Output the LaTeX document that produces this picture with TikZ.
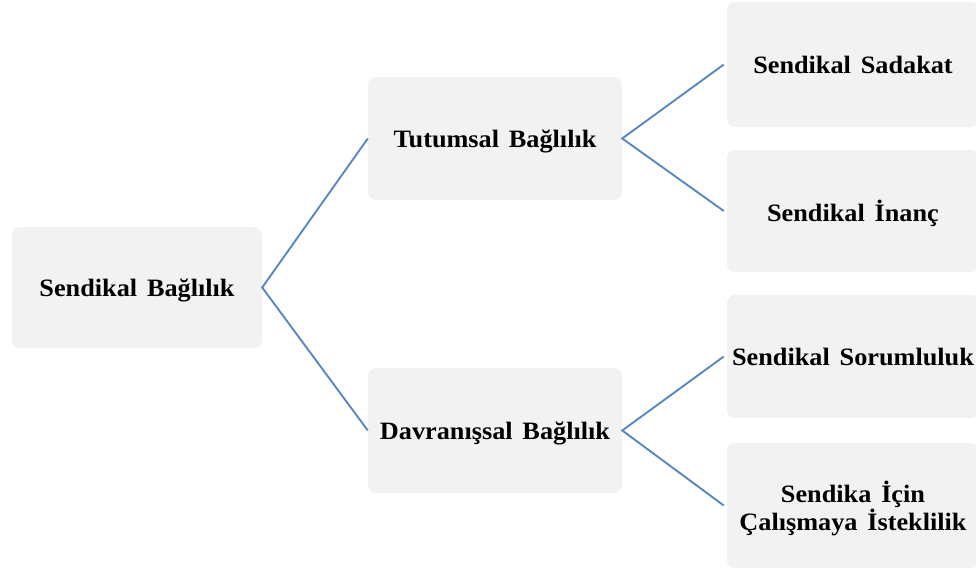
\documentclass[tikz,border=0pt]{standalone}
\usepackage{fontspec}
\setmainfont{Liberation Serif}[FakeStretch=1.05,WordSpace=1.5]
\definecolor{boxfill}{HTML}{F2F2F2}
\definecolor{linkblue}{HTML}{5888C0}
\begin{document}
\begin{tikzpicture}[x=1pt,y=-1pt,
  box/.style={rectangle, rounded corners=8pt, fill=boxfill, draw=none,
    inner sep=2pt, align=center, text depth=0pt,
    font=\fontsize{25}{23.5}\selectfont\bfseries},
  link/.style={draw=linkblue, line width=1.9pt}]
  \clip (0,0) rectangle (976,570);
  \fill[white] (0,0) rectangle (976,570);

  % levels of the hierarchy
  \node[box, minimum width=250pt, minimum height=121pt] (root) at (137,287.5) {Sendikal Bağlılık};
  \node[box, minimum width=254pt, minimum height=123pt] (tut) at (495,138.5) {Tutumsal Bağlılık};
  \node[box, minimum width=254pt, minimum height=125pt] (dav) at (495,430.5) {Davranışsal Bağlılık};
  \node[box, minimum width=252pt, minimum height=125pt] (sad) at (853,64.5) {Sendikal Sadakat};
  \node[box, minimum width=252pt, minimum height=122pt] (ina) at (853,211) {Sendikal İnanç};
  \node[box, minimum width=252pt, minimum height=123pt] (sor) at (853,356.5) {Sendikal Sorumluluk};
  \node[box, minimum width=252pt, minimum height=125pt] (ist) at (853,505.5) {Sendika İçin\\Çalışmaya İsteklilik};

  % connectors
  \draw[link] (tut.west) -- (root.east) -- (dav.west);
  \draw[link] ([xshift=-3pt]sad.west) -- (tut.east) -- ([xshift=-3pt]ina.west);
  \draw[link] ([xshift=-3pt]sor.west) -- (dav.east) -- ([xshift=-3pt]ist.west);
\end{tikzpicture}
\end{document}
